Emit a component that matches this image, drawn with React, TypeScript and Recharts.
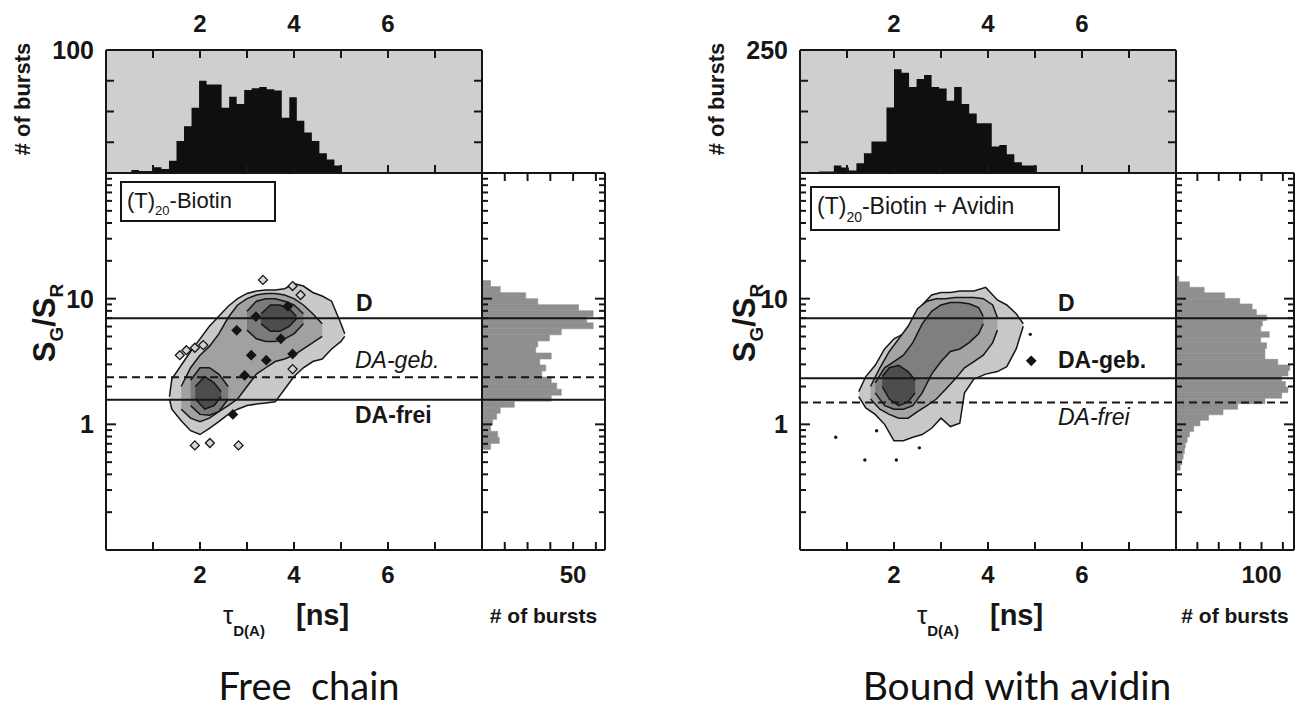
import {
  Area,
  CartesianGrid,
  ComposedChart,
  ReferenceArea,
  ReferenceLine,
  Scatter,
  XAxis,
  YAxis,
} from "recharts";

// axis ticks
const TAU_TICKS = [1, 2, 3, 4, 5, 6, 7];
const TAU_LABELS = [2, 4, 6];
const RATIO_TICKS = [
  0.2, 0.3, 0.4, 0.5, 0.6, 0.7, 0.8, 0.9, 1, 2, 3, 4, 5, 6, 7, 8, 9, 10, 20, 30,
  40, 50, 60, 70, 80, 90,
];
const RATIO_LABELS = [1, 10];

// top histograms: # of bursts per 0.16 ns bin
const TOP_BIN = 0.16;
const freeTopStart = 0.54;
const freeTopCounts = [
  2.4, 1.6, 1.6, 4.6, 3.3, 10, 26, 38, 53, 75, 72, 72, 53, 62, 56, 67.5, 69, 70,
  68, 67, 45, 61.5, 42.5, 33, 26, 16, 11, 6,
];
const boundTopStart = 0.4;
const boundTopCounts = [
  3, 3, 15, 11, 5, 20, 40, 64, 64, 133, 211, 204, 175, 191, 199, 175, 172, 147,
  175, 140, 121, 101, 101, 54, 57, 38, 22, 15, 15,
];

// side histograms: # of bursts per log10 bin, low to high S_G/S_R
const freeSideStart = -0.2;
const freeSideStep = 0.048;
const freeSideCounts = [
  4.7, 9.5, 8.6, 4.7, 5.8, 8, 10, 17.7, 38, 43.5, 41, 38, 32.8, 35, 31.7, 38,
  29.5, 30.6, 37, 43.5, 61, 57.5, 61, 53, 30.6, 24, 10, 4.7,
];
const boundSideStart = -0.365;
const boundSideStep = 0.0441;
const boundSideCounts = [
  4.9, 6.9, 8.3, 9.8, 10.8, 13, 15.7, 20.6, 28, 38, 55, 72, 104, 123.5, 131, 128,
  123.5, 131, 133, 119, 104, 104, 106, 99, 109, 99, 101, 106, 94, 89, 74.5, 57,
  33, 15.7, 3.4,
];

// guide lines D, DA-geb., DA-frei
const freeGuides = [7, 2.37, 1.57];
const boundGuides = [7, 2.33, 1.49];

// contour levels: [tau, low S_G/S_R, high S_G/S_R]
const freeLevel1 = [
  [1.35, 1.59, 1.66], [1.4, 1.32, 2.29], [1.6, 1.07, 2.95], [1.8, 0.89, 3.8],
  [2.0, 0.83, 4.79], [2.2, 0.93, 6.03], [2.4, 1.05, 7.24], [2.6, 1.2, 8.71],
  [2.8, 1.32, 10], [3.0, 1.41, 11], [3.2, 1.45, 11.5], [3.4, 1.48, 11.7],
  [3.6, 1.51, 11.7], [3.8, 1.9, 12], [4.0, 2.4, 13.2], [4.2, 2.82, 12.6],
  [4.4, 3.16, 11.2], [4.6, 3.31, 10.5], [4.8, 3.98, 9.55], [5.0, 4.57, 6.31],
  [5.08, 5.01, 5.25],
];
const freeLevel2 = [
  [1.6, 1.32, 2.0], [1.8, 1.12, 2.82], [2.0, 1.05, 3.55], [2.2, 1.12, 4.17],
  [2.4, 1.26, 5.25], [2.6, 1.41, 7.08], [2.8, 1.59, 8.91], [3.0, 2.0, 10],
  [3.2, 2.51, 10.7], [3.4, 2.82, 11], [3.6, 3.16, 11], [3.8, 3.31, 10.7],
  [4.0, 3.55, 10], [4.2, 3.98, 8.91], [4.4, 4.47, 7.59], [4.6, 5.01, 6.31],
];
const freeLevel3a = [
  [1.8, 1.41, 2.24], [2.0, 1.2, 2.82], [2.2, 1.18, 2.82], [2.4, 1.26, 2.51],
  [2.6, 1.59, 2.0],
];
const freeLevel3b = [
  [3.0, 5.62, 7.94], [3.2, 4.79, 9.55], [3.4, 4.57, 10], [3.6, 4.57, 10],
  [3.8, 4.79, 9.55], [4.0, 5.25, 8.91], [4.2, 6.31, 7.59],
];
const freeLevel4a = [
  [1.9, 1.59, 2.0], [2.1, 1.32, 2.4], [2.3, 1.41, 2.14], [2.45, 1.66, 1.82],
];
const freeLevel4b = [
  [3.3, 6.31, 7.59], [3.5, 5.5, 8.91], [3.7, 5.5, 8.91], [3.9, 6.03, 8.32],
  [4.05, 6.92, 7.24],
];
const boundLevel1 = [
  [1.25, 1.66, 1.82], [1.4, 1.35, 2.4], [1.6, 1.2, 2.95], [1.8, 1.0, 3.98],
  [2.0, 0.74, 4.79], [2.2, 0.74, 5.25], [2.4, 0.79, 6.31], [2.6, 0.83, 8.91],
  [2.8, 0.93, 10.7], [3.0, 1.12, 11.2], [3.2, 0.96, 11.2], [3.4, 1.02, 11.5],
  [3.5, 1.78, 11.5], [3.7, 2.29, 11.5], [3.95, 2.51, 12.3], [4.2, 2.63, 9.77],
  [4.4, 2.88, 8.91], [4.6, 3.98, 7.59], [4.75, 6.03, 6.31],
];
const boundLevel2 = [
  [1.5, 1.59, 2.0], [1.7, 1.32, 2.82], [1.9, 1.2, 3.8], [2.1, 1.12, 4.79],
  [2.3, 1.12, 6.03], [2.5, 1.26, 8.32], [2.7, 1.41, 9.55], [2.9, 1.59, 10],
  [3.1, 1.9, 10], [3.3, 2.29, 10.2], [3.5, 2.82, 10.2], [3.7, 3.16, 10.2],
  [3.9, 3.55, 10], [4.1, 4.47, 8.91], [4.2, 5.62, 7.08],
];
const boundLevel3 = [
  [1.6, 1.78, 2.14], [1.8, 1.41, 2.82], [2.0, 1.32, 3.16], [2.2, 1.32, 3.55],
  [2.4, 1.41, 4.47], [2.6, 1.78, 6.31], [2.8, 2.51, 7.94], [3.0, 3.16, 8.91],
  [3.2, 3.8, 9.33], [3.4, 3.98, 9.33], [3.6, 4.47, 9.12], [3.8, 5.25, 8.51],
  [3.9, 6.31, 7.24],
];
const boundLevel4 = [
  [1.75, 2.0, 2.4], [1.9, 1.59, 2.82], [2.1, 1.41, 2.95], [2.3, 1.51, 2.63],
  [2.45, 1.78, 2.24],
];

// isolated islands: [tau, S_G/S_R]
const freeHollow = [
  [3.34, 14.1], [3.97, 12.6], [4.14, 10.7], [1.57, 3.55], [1.71, 3.89],
  [1.89, 4.07], [2.07, 4.27], [1.89, 0.68], [2.21, 0.71], [2.82, 0.68],
  [3.97, 2.75],
];
const freeSolid = [
  [2.78, 5.6], [3.09, 3.55], [3.41, 3.24], [2.95, 2.45], [2.7, 1.2], [3.19, 7.2],
  [3.87, 8.7], [3.97, 3.63], [3.72, 4.79],
];
const boundSolid = [[4.92, 3.2]];
const boundDots = [
  [0.76, 0.79], [1.38, 0.52], [2.05, 0.52], [2.54, 0.65], [1.63, 0.89], [4.9, 5.2],
];

const W = 1306;
const H = 711;
const Y_TOP = 50;
const Y_MID = 173;
const Y_BOT = 550;
const FONT = '"Liberation Sans", Arial, sans-serif';
const INK = "#161616";
const AXIS = { stroke: INK, strokeWidth: 2 };

type Side = "top" | "bottom" | "left" | "right";

function makeTick(
  side: Side,
  len: (v: number) => number,
  label: (v: number) => string,
  gap = 0,
  size = 24
) {
  return (props: any) => {
    const x = Number(props.x);
    const y = Number(props.y);
    const v = Number(props.payload?.value);
    const l = len(v);
    const text = label(v);
    let x2 = x;
    let y2 = y;
    let tx = x;
    let ty = y;
    let anchor: "start" | "middle" | "end" = "middle";
    if (side === "bottom") {
      y2 = y - l;
      ty = y + gap;
    } else if (side === "top") {
      y2 = y + l;
      ty = y - gap;
    } else if (side === "left") {
      x2 = x + l;
      tx = x - gap;
      ty = y + size * 0.36;
      anchor = "end";
    } else {
      x2 = x - l;
      tx = x + gap;
      ty = y + size * 0.36;
      anchor = "start";
    }
    return (
      <g>
        {l > 0 && <line x1={x} y1={y} x2={x2} y2={y2} stroke={INK} strokeWidth={2} />}
        {text && (
          <text x={tx} y={ty} textAnchor={anchor} fontFamily={FONT} fontWeight={700} fontSize={size} fill={INK}>
            {text}
          </text>
        )}
      </g>
    );
  };
}

const none = () => "";
const tauLabel = (v: number) => (TAU_LABELS.includes(v) ? String(v) : "");
const ratioLen = (v: number) => (RATIO_LABELS.includes(v) ? 10 : 6);

const diamond = (fill: string, s: number) => (p: any) => (
  <polygon
    points={`${p.cx},${p.cy - s} ${p.cx + s},${p.cy} ${p.cx},${p.cy + s} ${p.cx - s},${p.cy}`}
    fill={fill}
    stroke={INK}
    strokeWidth={1.3}
  />
);
const dot = (p: any) => <circle cx={p.cx} cy={p.cy} r={1.7} fill={INK} />;

type PanelCfg = {
  x0: number;
  x1: number;
  x2: number;
  topStart: number;
  topCounts: number[];
  topMax: number;
  topTicks: number[];
  sideStart: number;
  sideStep: number;
  sideCounts: number[];
  sideMax: number;
  sideTicks: number[];
  sideLabel: number;
  levels: number[][][];
  fills: string[];
  hollow: number[][];
  solid: number[][];
  dots: number[][];
  guides: number[];
  dashed: number;
};

const free: PanelCfg = {
  x0: 106,
  x1: 482,
  x2: 605,
  topStart: freeTopStart,
  topCounts: freeTopCounts,
  topMax: 100,
  topTicks: [25, 50, 75, 100],
  sideStart: freeSideStart,
  sideStep: freeSideStep,
  sideCounts: freeSideCounts,
  sideMax: 67.5,
  sideTicks: [12.5, 25, 37.5, 50, 62.5],
  sideLabel: 50,
  levels: [freeLevel1, freeLevel2, freeLevel3a, freeLevel3b, freeLevel4a, freeLevel4b],
  fills: ["#c9c9c9", "#a1a1a1", "#7b7b7b", "#7b7b7b", "#4c4c4c", "#4c4c4c"],
  hollow: freeHollow,
  solid: freeSolid,
  dots: [],
  guides: freeGuides,
  dashed: 1,
};

const bound: PanelCfg = {
  x0: 800,
  x1: 1176,
  x2: 1294,
  topStart: boundTopStart,
  topCounts: boundTopCounts,
  topMax: 250,
  topTicks: [62.5, 125, 187.5, 250],
  sideStart: boundSideStart,
  sideStep: boundSideStep,
  sideCounts: boundSideCounts,
  sideMax: 138,
  sideTicks: [25, 50, 75, 100, 125],
  sideLabel: 100,
  levels: [boundLevel1, boundLevel2, boundLevel3, boundLevel4],
  fills: ["#c8c8c8", "#a4a4a4", "#7f7f7f", "#4d4d4d"],
  hollow: [],
  solid: boundSolid,
  dots: boundDots,
  guides: boundGuides,
  dashed: 2,
};

const layer: React.CSSProperties = { position: "absolute", left: 0, top: 0 };

// every axis is 1px thick so that recharts draws it; margins absorb that pixel
const xAx = { type: "number" as const, height: 1, tickSize: 0, tickMargin: 0, tickLine: false, axisLine: AXIS, interval: 0 as const, allowDataOverflow: true };
const yAx = { type: "number" as const, width: 1, tickSize: 0, tickMargin: 0, tickLine: false, axisLine: AXIS, interval: 0 as const, allowDataOverflow: true };

function TopHist({ c }: { c: PanelCfg }) {
  const rows = [
    ...c.topCounts.map((n, i) => ({ t: c.topStart + i * TOP_BIN, n })),
    { t: c.topStart + c.topCounts.length * TOP_BIN, n: 0 },
  ];
  const edge = (v: number) => (v === c.topMax ? 0 : 8);
  return (
    <div style={layer}>
      <ComposedChart
        width={W}
        height={H}
        margin={{ top: Y_TOP - 1, left: c.x0 - 1, right: W - c.x1 - 1, bottom: H - Y_MID - 1 }}
      >
        <CartesianGrid xAxisId="b" yAxisId="l" fill="#cfcfcf" stroke="none" horizontal={false} vertical={false} />
        <XAxis {...xAx} xAxisId="b" dataKey="t" domain={[0, 8]} ticks={TAU_TICKS} orientation="bottom"
          tick={makeTick("bottom", () => 8, none)} />
        <XAxis {...xAx} xAxisId="t" dataKey="t" domain={[0, 8]} ticks={TAU_TICKS} orientation="top"
          tick={makeTick("top", () => 8, tauLabel, 18)} />
        <YAxis {...yAx} yAxisId="l" domain={[0, c.topMax]} ticks={c.topTicks} orientation="left"
          tick={makeTick("left", edge, (v) => (v === c.topMax ? String(v) : ""), 12, 25)} />
        <YAxis {...yAx} yAxisId="r" domain={[0, c.topMax]} ticks={c.topTicks} orientation="right"
          tick={makeTick("right", edge, none)} />
        <Area xAxisId="b" yAxisId="l" data={rows} dataKey="n" type="stepAfter" fill="#0f0f0f"
          fillOpacity={1} stroke="none" dot={false} activeDot={false} isAnimationActive={false} />
        <Area xAxisId="t" yAxisId="r" data={rows} dataKey="n" type="stepAfter" fill="none"
          stroke="none" dot={false} activeDot={false} isAnimationActive={false} />
      </ComposedChart>
    </div>
  );
}

function MainPlot({ c }: { c: PanelCfg }) {
  const pts = (list: number[][]) => list.map(([t, r]) => ({ t, r }));
  return (
    <div style={layer}>
      <ComposedChart
        width={W}
        height={H}
        margin={{ top: Y_MID, left: c.x0 - 1, right: W - c.x1, bottom: H - Y_BOT - 1 }}
      >
        <XAxis {...xAx} xAxisId="b" dataKey="t" domain={[0, 8]} ticks={TAU_TICKS} orientation="bottom"
          tick={makeTick("bottom", () => 8, tauLabel, 33)} />
        <YAxis {...yAx} yAxisId="l" scale="log" domain={[0.1, 100]} ticks={RATIO_TICKS} orientation="left"
          tick={makeTick("left", ratioLen, (v) => (RATIO_LABELS.includes(v) ? String(v) : ""), 12, 25)} />
        {c.levels.map((lv, i) => (
          <Area key={i} xAxisId="b" yAxisId="l" data={lv.map(([t, lo, hi]) => ({ t, r: [lo, hi] }))}
            dataKey="r" type="linear" fill={c.fills[i]} fillOpacity={1} stroke={INK} strokeWidth={1.5}
            dot={false} activeDot={false} isAnimationActive={false} />
        ))}
        <Scatter xAxisId="b" yAxisId="l" data={pts(c.hollow)} dataKey="r" shape={diamond("#d4d4d4", 4.5)}
          isAnimationActive={false} />
        <Scatter xAxisId="b" yAxisId="l" data={pts(c.solid)} dataKey="r" shape={diamond("#141414", 4.5)}
          isAnimationActive={false} />
        <Scatter xAxisId="b" yAxisId="l" data={pts(c.dots)} dataKey="r" shape={dot}
          isAnimationActive={false} />
        {c.guides.map((g, i) => (
          <ReferenceLine key={i} xAxisId="b" yAxisId="l" y={g} stroke={INK} strokeWidth={2}
            strokeDasharray={i === c.dashed ? "8 5" : undefined} />
        ))}
      </ComposedChart>
    </div>
  );
}

function SideHist({ c }: { c: PanelCfg }) {
  // one horizontal bar per log bin, drawn on the same log scale as the main plot
  const bins = c.sideCounts.map((n, i) => ({
    n,
    lo: 10 ** (c.sideStart + i * c.sideStep),
    hi: 10 ** (c.sideStart + (i + 1) * c.sideStep),
  }));
  const outline = bins.map((b) => ({ n: b.n, r: b.lo }));
  return (
    <div style={layer}>
      <ComposedChart
        width={W}
        height={H}
        margin={{ top: Y_MID - 1, left: c.x1 - 1, right: W - c.x2 - 1, bottom: H - Y_BOT - 1 }}
      >
        <XAxis {...xAx} xAxisId="b" dataKey="n" domain={[0, c.sideMax]} ticks={c.sideTicks} orientation="bottom"
          tick={makeTick("bottom", () => 8, (v) => (v === c.sideLabel ? String(v) : ""), 33)} />
        <XAxis {...xAx} xAxisId="t" dataKey="n" domain={[0, c.sideMax]} ticks={c.sideTicks} orientation="top"
          tick={makeTick("top", () => 8, none)} />
        <YAxis {...yAx} yAxisId="l" scale="log" domain={[0.1, 100]} ticks={RATIO_TICKS}
          orientation="left" tick={makeTick("left", ratioLen, none)} />
        <YAxis {...yAx} yAxisId="r" scale="log" domain={[0.1, 100]} ticks={RATIO_TICKS}
          orientation="right" tick={makeTick("right", ratioLen, none)} />
        {bins.map((b, i) => (
          <ReferenceArea key={i} xAxisId="b" yAxisId="l" x1={0} x2={b.n} y1={b.lo} y2={b.hi}
            fill="#8f8f8f" fillOpacity={1} stroke="#8f8f8f" strokeWidth={0.6} ifOverflow="visible" />
        ))}
        <Scatter xAxisId="b" yAxisId="l" data={outline} dataKey="r" shape={() => <g />} isAnimationActive={false} />
        <Scatter xAxisId="t" yAxisId="r" data={outline} dataKey="r" shape={() => <g />} isAnimationActive={false} />
        {c.guides.map((g, i) => (
          <ReferenceLine key={i} xAxisId="b" yAxisId="l" y={g} stroke={INK} strokeWidth={2}
            strokeDasharray={i === c.dashed ? "8 5" : undefined} />
        ))}
      </ComposedChart>
    </div>
  );
}

function Texts() {
  const bold = { fontFamily: FONT, fontWeight: 700, fill: INK } as const;
  const axisTitles = (c: PanelCfg, sgX: number) => (
    <g>
      <text transform={`translate(${c.x0 - 76},99) rotate(-90)`} textAnchor="middle" fontSize={22} {...bold}>
        # of bursts
      </text>
      <text transform={`translate(${sgX},323) rotate(-90)`} textAnchor="middle" fontSize={31} {...bold}>
        S<tspan fontSize={19} dy={8}>G</tspan>
        <tspan dy={-8}>/S</tspan>
        <tspan fontSize={19} dy={8}>R</tspan>
      </text>
      <text x={c.x0 + 117} y={624} fontFamily={FONT} fontSize={26} fill={INK}>
        τ<tspan fontSize={15} fontWeight={700} dy={12}>D(A)</tspan>
      </text>
      <text x={c.x0 + 190} y={625} fontSize={29} {...bold}>
        [ns]
      </text>
      <text x={(c.x1 + c.x2) / 2} y={623} textAnchor="middle" fontSize={21} {...bold}>
        # of bursts
      </text>
    </g>
  );
  return (
    <svg width={W} height={H} style={{ ...layer, pointerEvents: "none" }}>
      {axisTitles(free, 55)}
      {axisTitles(bound, 755)}

      <rect x={121} y={182} width={154} height={39} fill="#fff" stroke={INK} strokeWidth={2} />
      <text x={127} y={208} fontFamily={FONT} fontSize={22} fill={INK}>
        (T)<tspan fontSize={13} dy={7}>20</tspan>
        <tspan dy={-7}>-Biotin</tspan>
      </text>
      <rect x={811} y={187} width={248} height={43} fill="#fff" stroke={INK} strokeWidth={2} />
      <text x={817} y={214} fontFamily={FONT} fontSize={23} fill={INK}>
        (T)<tspan fontSize={14} dy={8}>20</tspan>
        <tspan dy={-8}>-Biotin + Avidin</tspan>
      </text>

      <text x={356} y={311} fontSize={23} {...bold}>D</text>
      <text x={355} y={368} fontFamily={FONT} fontStyle="italic" fontSize={23} fill={INK}>DA-geb.</text>
      <text x={355} y={423} fontSize={23} {...bold}>DA-frei</text>
      <text x={1058} y={311} fontSize={23} {...bold}>D</text>
      <text x={1058} y={368} fontSize={23} {...bold}>DA-geb.</text>
      <text x={1058} y={425} fontFamily={FONT} fontStyle="italic" fontSize={23} fill={INK}>DA-frei</text>

      <text x={309} y={700} textAnchor="middle" fontFamily="Lato, 'Open Sans', sans-serif" fontSize={38}
        fill="#111" style={{ whiteSpace: "pre" }}>
        {"Free  chain"}
      </text>
      <text x={1017} y={700} textAnchor="middle" fontFamily="Lato, 'Open Sans', sans-serif" fontSize={39}
        fill="#111">
        Bound with avidin
      </text>
    </svg>
  );
}

export default function App() {
  return (
    <div style={{ position: "absolute", left: 0, top: 0, width: W, height: H, background: "#fff", overflow: "hidden" }}>
      {[free, bound].map((c, i) => (
        <div key={i}>
          <TopHist c={c} />
          <MainPlot c={c} />
          <SideHist c={c} />
        </div>
      ))}
      <Texts />
    </div>
  );
}
